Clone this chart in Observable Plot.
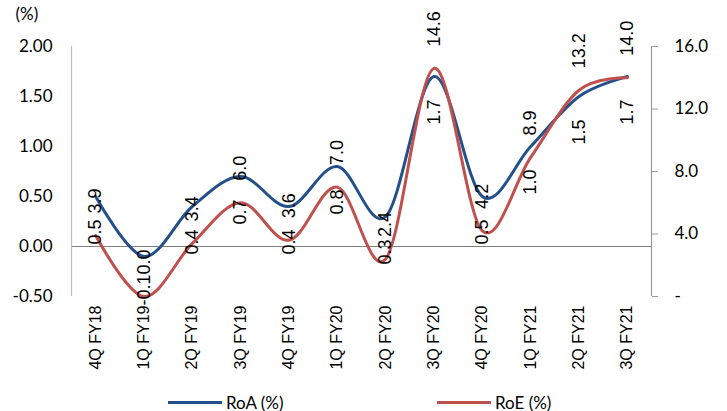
<!DOCTYPE html>
<html>
<head>
<meta charset="utf-8">
<script src="https://cdn.jsdelivr.net/npm/d3@7"></script>
<script src="https://cdn.jsdelivr.net/npm/@observablehq/plot@0.6"></script>
<style>
  body { margin: 0; background: #fff; }
  #chart { position: relative; width: 727px; height: 411px; }
  .legend { position: absolute; top: 392px; left: 0; width: 727px; height: 20px;
            font-family: Lato, sans-serif; font-size: 17px; color: #000; }
  .item { position: absolute; top: 0; height: 20px; display: flex; align-items: center; }
  .swatch { width: 54px; height: 3px; margin-right: 4px; }
</style>
</head>
<body>
<div id="chart"></div>
<script>
// Quarterly return ratios
const quarters = ["4Q FY18", "1Q FY19", "2Q FY19", "3Q FY19", "4Q FY19", "1Q FY20",
                  "2Q FY20", "3Q FY20", "4Q FY20", "1Q FY21", "2Q FY21", "3Q FY21"];
const roa = [0.5, -0.1, 0.4, 0.7, 0.4, 0.8, 0.3, 1.7, 0.5, 1.0, 1.5, 1.7];
const roe = [3.9, 0.0, 3.4, 6.0, 3.6, 7.0, 2.4, 14.6, 4.2, 8.9, 13.2, 14.0];
const leftTicks = [-0.5, 0, 0.5, 1.0, 1.5, 2.0];
const rightTicks = [0, 4, 8, 12, 16];
const seriesNames = ["RoA (%)", "RoE (%)"];

const BLUE = "#23508a";
const RED = "#c0504d";

// RoE uses the right-hand axis (0–16); map it onto the left axis range (-0.5–2.0)
const leftMin = -0.5, leftMax = 2.0, rightMax = 16;
const toLeft = r => leftMin + r * (leftMax - leftMin) / rightMax;
const fromLeft = v => (v - leftMin) * rightMax / (leftMax - leftMin);

const W = 727, H = 385, mTop = 46, mBottom = 89, mLeft = 71, mRight = 76;
const labelFont = "Liberation Sans, Arial, sans-serif";
const labelSize = 18;
const labelGap = 23;
const labelOverhang = 9; // how far a RoA label may reach below the plot area

const rows = quarters.map((q, i) => ({
  i, q,
  roa: roa[i],
  roe: toLeft(roe[i]),
  roaLabel: roa[i].toFixed(1),
  roeLabel: roe[i].toFixed(1)
}));

// RoA labels sit below their point; any that would run too far past the bottom
// of the plot area are pinned to the bottom edge instead.
const yScale = Plot.scale({ y: { domain: [leftMin, leftMax], range: [H - mBottom, mTop] } });
const ctx = document.createElement("canvas").getContext("2d");
ctx.font = `${labelSize}px ${labelFont}`;
for (const r of rows) {
  const bottom = yScale.apply(r.roa) + labelGap + ctx.measureText(r.roaLabel).width;
  r.pinned = bottom > H - mBottom + labelOverhang;
}
const roaFree = rows.filter(r => !r.pinned);
const roaPinned = rows.filter(r => r.pinned);

const chart = Plot.plot({
  width: W,
  height: H,
  marginLeft: mLeft,
  marginRight: mRight,
  marginTop: mTop,
  marginBottom: mBottom,
  style: { fontFamily: "Lato, sans-serif", fontSize: "17px", color: "#000", background: "#fff", overflow: "visible" },
  x: { type: "linear", domain: [-0.5, quarters.length - 0.5] },
  y: { domain: [leftMin, leftMax] },
  marks: [
    Plot.ruleY([0], { stroke: "#808080", strokeWidth: 1 }),
    Plot.ruleX([-0.5], { y1: leftMin, y2: leftMax, stroke: "#bdbdbd", strokeWidth: 1.2 }),
    Plot.ruleX([quarters.length - 0.5], { y1: leftMin, y2: leftMax, stroke: "#9a9a9a", strokeWidth: 1.2 }),
    Plot.axisY({
      ticks: leftTicks, tickSize: 0, tickPadding: 19,
      tickFormat: d => d.toFixed(2), label: null, fontSize: 17
    }),
    Plot.axisY({
      anchor: "right", ticks: rightTicks.map(toLeft), tickSize: 6, tickPadding: 17,
      tickFormat: v => { const r = Math.round(fromLeft(v) * 10) / 10; return r === 0 ? "-" : r.toFixed(1); },
      label: null, stroke: "#9a9a9a", fill: "#000", fontSize: 17
    }),
    Plot.axisX({
      ticks: d3.range(quarters.length), tickFormat: i => quarters[i],
      tickRotate: -90, tickSize: 0, tickPadding: 9, label: null,
      fontFamily: labelFont, fontSize: 16
    }),
    Plot.line(rows, { x: "i", y: "roa", curve: "cardinal", stroke: BLUE, strokeWidth: 3 }),
    Plot.line(rows, { x: "i", y: "roe", curve: "cardinal", stroke: RED, strokeWidth: 3 }),
    Plot.text(roaFree, {
      x: "i", y: "roa", text: "roaLabel", rotate: -90, textAnchor: "end", dy: labelGap,
      fontFamily: labelFont, fontSize: labelSize, fill: "#000"
    }),
    Plot.text(roaPinned, {
      x: "i", y: () => leftMin, text: "roaLabel", rotate: -90, textAnchor: "start", dy: labelOverhang,
      fontFamily: labelFont, fontSize: labelSize, fill: "#000"
    }),
    Plot.text(rows, {
      x: "i", y: "roe", text: "roeLabel", rotate: -90, textAnchor: "start", dy: -22,
      fontFamily: labelFont, fontSize: labelSize, fill: "#000"
    }),
    Plot.text(["(%)"], {
      text: d => d, frameAnchor: "top-left", dx: -56, dy: -39,
      fontFamily: "Lato, sans-serif", fontSize: 17, fill: "#000"
    })
  ]
});

const root = document.getElementById("chart");
root.appendChild(chart);

// Legend below the plot
const legend = document.createElement("div");
legend.className = "legend";
const items = [
  { name: seriesNames[0], color: BLUE, left: 168 },
  { name: seriesNames[1], color: RED, left: 437 }
];
for (const it of items) {
  const el = document.createElement("div");
  el.className = "item";
  el.style.left = it.left + "px";
  const sw = document.createElement("span");
  sw.className = "swatch";
  sw.style.background = it.color;
  const tx = document.createElement("span");
  tx.textContent = it.name;
  el.appendChild(sw);
  el.appendChild(tx);
  legend.appendChild(el);
}
root.appendChild(legend);
</script>
</body>
</html>
